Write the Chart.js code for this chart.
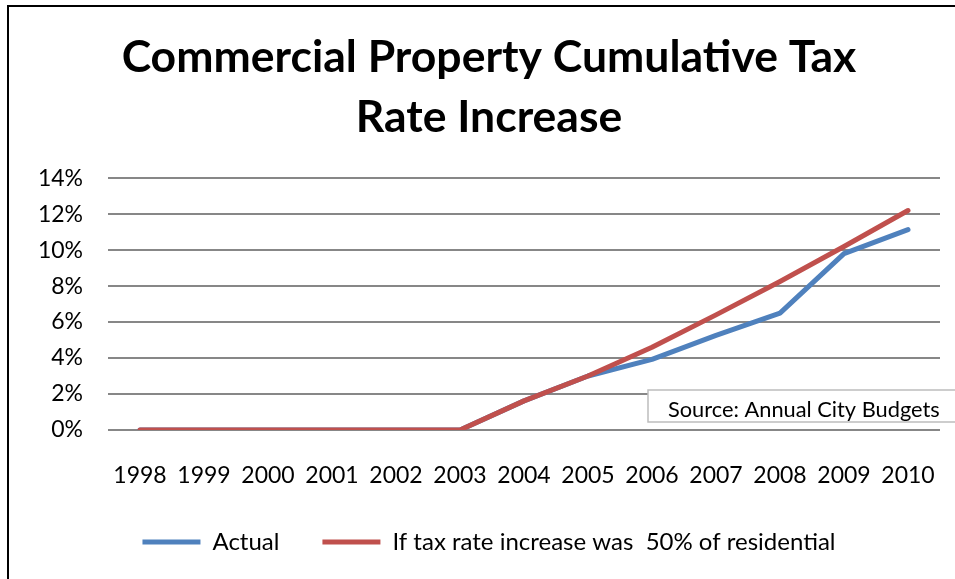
<!DOCTYPE html>
<html>
<head>
<meta charset="utf-8">
<script src="https://cdn.jsdelivr.net/npm/chart.js@4/dist/chart.umd.min.js"></script>
<style>
  html, body { margin: 0; padding: 0; background: #fff; overflow: hidden; }
  #wrap { position: relative; width: 955px; height: 579px; }
</style>
</head>
<body>
<div id="wrap"><canvas id="chart" width="955" height="579"></canvas></div>
<script>
// Fiscal years shown along the bottom axis
const years = ['1998', '1999', '2000', '2001', '2002', '2003', '2004',
               '2005', '2006', '2007', '2008', '2009', '2010'];

// Cumulative commercial tax rate increase, in percent
const actualIncrease = [0, 0, 0, 0, 0, 0, 1.62, 3.0, 3.93, 5.26, 6.5, 9.8, 11.14];
const halfResidentialIncrease = [0, 0, 0, 0, 0, 0, 1.62, 3.0, 4.6, 6.4, 8.25, 10.2, 12.2];

const seriesNames = ['Actual', 'If tax rate increase was  50% of residential'];
const titleLines = ['Commercial Property Cumulative Tax', 'Rate Increase'];
const sourceNote = 'Source: Annual City Budgets';

const BLUE = '#4F81BD';
const RED = '#C0504D';
const FONT = 'Lato, "Open Sans", sans-serif';

// Outer frame of the chart object (only the top and left edges fall inside the canvas)
const framePlugin = {
  id: 'frame',
  beforeDraw(chart) {
    const ctx = chart.ctx;
    ctx.save();
    ctx.strokeStyle = '#000';
    ctx.lineWidth = 2;
    ctx.beginPath();
    ctx.moveTo(8, chart.height + 5);
    ctx.lineTo(8, 6);
    ctx.lineTo(chart.width + 5, 6);
    ctx.stroke();
    ctx.restore();
  }
};

// Text box with the data source, drawn over the plot
const sourcePlugin = {
  id: 'sourceNote',
  afterDraw(chart) {
    const ctx = chart.ctx;
    const x = 648, y = 390, w = 320, h = 32;
    ctx.save();
    ctx.fillStyle = '#fff';
    ctx.fillRect(x, y, w, h);
    ctx.strokeStyle = '#bdbdbd';
    ctx.lineWidth = 1.5;
    ctx.strokeRect(x, y, w, h);
    ctx.fillStyle = '#000';
    ctx.font = '21.8px ' + FONT;
    ctx.textBaseline = 'alphabetic';
    ctx.textAlign = 'left';
    ctx.fillText(sourceNote, 668, 417);
    ctx.restore();
  }
};

new Chart(document.getElementById('chart'), {
  type: 'line',
  data: {
    labels: years,
    datasets: [
      {
        label: seriesNames[0],
        data: actualIncrease,
        borderColor: BLUE,
        backgroundColor: BLUE,
        borderWidth: 5,
        pointRadius: 0,
        borderCapStyle: 'round',
        borderJoinStyle: 'round',
        tension: 0,
        order: 1
      },
      {
        label: seriesNames[1],
        data: halfResidentialIncrease,
        borderColor: RED,
        backgroundColor: RED,
        borderWidth: 5,
        pointRadius: 0,
        borderCapStyle: 'round',
        borderJoinStyle: 'round',
        tension: 0,
        order: 0
      }
    ]
  },
  options: {
    responsive: false,
    animation: false,
    layout: { padding: { left: 38, right: 15, top: 0, bottom: 15 } },
    plugins: {
      title: {
        display: true,
        text: titleLines,
        color: '#000',
        font: { family: FONT, size: 44.5, weight: 'bold', lineHeight: 1.35 },
        padding: { top: 28, bottom: 30 }
      },
      legend: {
        position: 'bottom',
        labels: {
          color: '#000',
          font: { family: FONT, size: 24 },
          boxWidth: 58,
          boxHeight: 5,
          useBorderRadius: true,
          borderRadius: 2.5,
          padding: 43,
          generateLabels(chart) {
            return chart.data.datasets.map((ds, i) => ({
              text: ds.label,
              fillStyle: ds.borderColor,
              strokeStyle: ds.borderColor,
              lineWidth: 0,
              fontColor: '#000',
              datasetIndex: i,
              hidden: false
            }));
          }
        }
      },
      tooltip: { enabled: false }
    },
    scales: {
      x: {
        offset: true,
        grid: { display: false, drawTicks: false },
        border: { display: false },
        ticks: {
          color: '#000',
          font: { family: FONT, size: 23 },
          padding: 32,
          maxRotation: 0,
          autoSkip: false
        },
        afterFit(scale) {
          scale.height = 57;
          // labels sit well inside the category bands, no side padding needed
          scale.paddingLeft = 0;
          scale.paddingRight = 0;
        }
      },
      y: {
        min: 0,
        max: 14,
        grid: { color: '#878787', lineWidth: 2, drawTicks: false },
        border: { display: false },
        ticks: {
          stepSize: 2,
          color: '#000',
          font: { family: FONT, size: 23 },
          padding: 25,
          callback: (v) => v + '%'
        },
        afterFit(scale) { scale.width = 70; }
      }
    }
  },
  plugins: [framePlugin, sourcePlugin]
});
</script>
</body>
</html>
